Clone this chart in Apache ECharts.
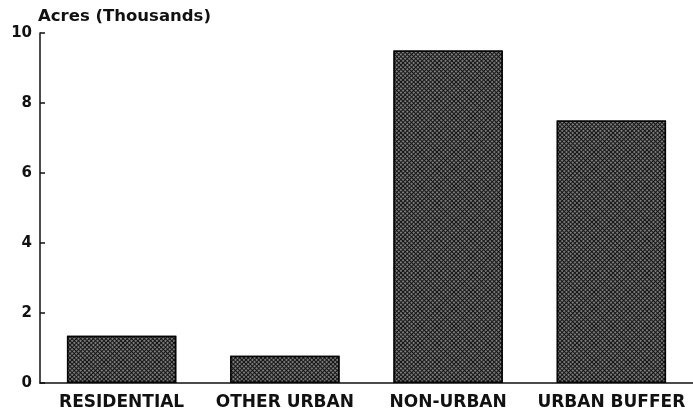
<!DOCTYPE html>
<html>
<head>
<meta charset="utf-8">
<script src="https://cdn.jsdelivr.net/npm/echarts@6/dist/echarts.min.js"></script>
<style>
  html, body { margin: 0; padding: 0; background: #fff; }
  #chart { width: 693px; height: 416px; }
</style>
</head>
<body>
<div id="chart"></div>
<script>
// land use categories and acreage (thousands of acres)
const categories = ['RESIDENTIAL', 'OTHER URBAN', 'NON-URBAN', 'URBAN BUFFER']
const acres = [1.35, 0.78, 9.5, 7.5]
const yTicks = [0, 2, 4, 6, 8, 10]

const font = 'DejaVu Sans'
const chart = echarts.init(document.getElementById('chart'))

const option = {
  animation: false,
  backgroundColor: '#fff',
  grid: { left: 40, right: -4, top: 33, bottom: 33 },
  xAxis: {
    type: 'category',
    data: categories,
    axisLine: { lineStyle: { color: '#111', width: 1.5 } },
    axisTick: { show: false },
    axisLabel: {
      interval: 0,
      hideOverlap: false,
      color: '#111',
      fontFamily: font,
      fontWeight: 'bold',
      fontSize: 17,
      margin: 11
    }
  },
  yAxis: {
    type: 'value',
    min: yTicks[0],
    max: yTicks[yTicks.length - 1],
    interval: 2,
    name: 'Acres (Thousands)',
    nameLocation: 'end',
    nameGap: 8,
    nameTextStyle: {
      align: 'left',
      color: '#111',
      fontFamily: font,
      fontWeight: 'bold',
      fontSize: 16.5,
      padding: [0, 0, 0, -2]
    },
    splitLine: { show: false },
    axisLine: { show: true, lineStyle: { color: '#111', width: 1.5 } },
    axisTick: { show: true, inside: true, length: 5, lineStyle: { color: '#111', width: 1.5 } },
    axisLabel: {
      color: '#111',
      fontFamily: font,
      fontWeight: 'bold',
      fontSize: 15,
      margin: 8
    }
  },
  series: [{
    type: 'bar',
    data: acres,
    barWidth: '67%',
    itemStyle: {
      color: '#141414',
      borderColor: '#050505',
      borderWidth: 1.5,
      decal: {
        symbol: 'rect',
        symbolSize: 1,
        color: 'rgba(235,235,235,0.48)',
        dashArrayX: [2, 1],
        dashArrayY: [2, 1],
        rotation: Math.PI / 4
      }
    }
  }]
}

chart.setOption(option)
</script>
</body>
</html>
